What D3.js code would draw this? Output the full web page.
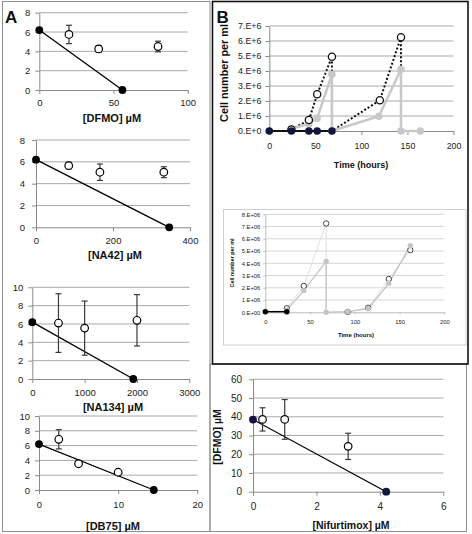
<!DOCTYPE html>
<html><head><meta charset="utf-8">
<script src="https://cdn.jsdelivr.net/npm/d3@7"></script>
<style>
body{margin:0;background:#fff}
svg{display:block}
text{font-family:"Liberation Sans",Arial,sans-serif}
</style>
</head><body>
<svg id="c" width="472" height="534"></svg>
<script>
// ---------- DATA ----------
// Panel A: growth (y) vs drug concentration; open = combination points, filled = isobole ends
const dfmoDose = [20, 40, 80], dfmoGrowth = [5.75, 4.25, 4.5], dfmoErr = [0.95, 0.35, 0.55];
const dfmoIsoDose = [0, 56], dfmoIsoGrowth = [6.2, 0];
const dfmoXTicks = [0, 50, 100], dfmoYTicks = [0, 2, 4, 6, 8];

const na42Dose = [85, 166, 332], na42Growth = [5.65, 5.05, 5.05], na42Err = [0.3, 0.75, 0.5];
const na42IsoDose = [0, 346], na42IsoGrowth = [6.2, 0];
const na42XTicks = [0, 200, 400], na42YTicks = [0, 2, 4, 6, 8];

const na134Dose = [500, 1000, 2000], na134Growth = [6.1, 5.55, 6.4], na134Err = [3.2, 2.95, 2.8];
const na134IsoDose = [0, 1930], na134IsoGrowth = [6.2, 0];
const na134XTicks = [0, 1000, 2000, 3000], na134YTicks = [0, 2, 4, 6, 8, 10];

const db75Dose = [2.5, 5, 10], db75Growth = [6.85, 3.55, 2.4], db75Err = [1.3, 0.15, 0.15];
const db75IsoDose = [0, 14.5], db75IsoGrowth = [6.2, 0];
const db75XTicks = [0, 10, 20], db75YTicks = [0, 2, 4, 6, 8, 10];

// Panel B (main): cell number (millions) vs time (hours)
const bBlackTime = [0, 24, 43, 52, 68], bBlackCells = [0, 0, 0, 0, 0];
const bOpenTime = [24, 43, 52, 68, 68, 120, 143, 143, 164], bOpenCells = [0.1, 0.73, 2.45, 4.95, 0, 2.05, 6.25, 0, 0];
const bGrayTime = [24, 43, 52, 68, 68, 119, 143, 143, 164], bGrayCells = [0.15, 0.47, 0.85, 3.78, 0, 0.98, 4.12, 0, 0];
const bXTicks = [0, 50, 100, 150, 200];
const bYTicks = [0, 1, 2, 3, 4, 5, 6, 7];
const bYTickLabels = ["0.E+0", "1.E+6", "2.E+6", "3.E+6", "4.E+6", "5.E+6", "6.E+6", "7.E+6"];

// Panel B (inset)
const iBlackTime = [0, 24], iBlackCells = [0.05, 0.05];
const iOpenTime = [24, 43, 68, 68, 92, 115, 138, 162], iOpenCells = [0.33, 2.15, 7.25, 0, 0.03, 0.37, 2.72, 5.08];
const iGrayTime = [24, 43, 68, 68, 92, 115, 138, 162], iGrayCells = [0.2, 1.77, 4.15, 0, 0.05, 0.3, 2.37, 5.44];
const iXTicks = [0, 50, 100, 150, 200];
const iYTicks = [0, 1, 2, 3, 4, 5, 6, 7, 8];
const iYTickLabels = ["0.E+00", "1.E+06", "2.E+06", "3.E+06", "4.E+06", "5.E+06", "6.E+06", "7.E+06", "8.E+06"];

// Nifurtimox / DFMO isobologram
const nifDose = [0.3, 1, 3], nifDfmo = [38.6, 38.6, 24.2], nifErr = [6.2, 10.6, 7];
const nifIsoDose = [0, 4.2], nifIsoDfmo = [38.5, 0];
const nifXTicks = [0, 2, 4, 6], nifYTicks = [0, 10, 20, 30, 40, 50, 60];

// ---------- DRAWING ----------
const svg = d3.select("#c");

// frames
svg.append("rect").attr("x", 2.5).attr("y", 1.5).attr("width", 207.5).attr("height", 530)
  .attr("fill", "none").attr("stroke", "#8f8f8f").attr("stroke-width", 1);
svg.append("rect").attr("x", 210).attr("y", 364).attr("width", 256.5).attr("height", 167.5)
  .attr("fill", "none").attr("stroke", "#8f8f8f").attr("stroke-width", 1);
svg.append("rect").attr("x", 212.5).attr("y", 1.5).attr("width", 255.5).attr("height", 362.5)
  .attr("fill", "none").attr("stroke", "#111").attr("stroke-width", 1.6);

function makeAxes(cfg) {
  const x = d3.scaleLinear().domain(cfg.xDomain).range(cfg.xRange);
  const y = d3.scaleLinear().domain(cfg.yDomain).range(cfg.yRange);
  const g = svg.append("g");
  g.selectAll("line.grid").data(cfg.yTicks.filter(v => v !== cfg.yDomain[0])).enter().append("line")
    .attr("x1", cfg.xRange[0]).attr("x2", cfg.xRange[1])
    .attr("y1", d => y(d)).attr("y2", d => y(d))
    .attr("stroke", cfg.gridColor).attr("stroke-width", cfg.gridWidth || 1);
  const xa = g.append("g").attr("transform", `translate(0,${y(cfg.yDomain[0])})`)
    .call(d3.axisBottom(x).tickValues(cfg.xTicks).tickSize(cfg.tick).tickPadding(cfg.xPad).tickSizeOuter(0)
      .tickFormat(d => String(d)));
  const ya = g.append("g").attr("transform", `translate(${cfg.xRange[0]},0)`)
    .call(d3.axisLeft(y).tickValues(cfg.yTicks).tickSize(cfg.tick).tickPadding(cfg.yPad).tickSizeOuter(0)
      .tickFormat(cfg.yFormat || (d => String(d))));
  [xa, ya].forEach(a => {
    a.select(".domain").attr("stroke", cfg.axisColor);
    a.selectAll(".tick line").attr("stroke", cfg.axisColor);
    a.selectAll(".tick text").attr("fill", "#222").attr("font-size", cfg.fs)
      .attr("font-family", '"Liberation Sans",Arial,sans-serif');
  });
  return {x, y, g};
}

function isoPanel(cfg, dose, val, err, isoX, isoY, fill) {
  const {x, y, g} = makeAxes(cfg);
  g.append("path").datum(isoX.map((d, i) => [d, isoY[i]]))
    .attr("d", d3.line().x(d => x(d[0])).y(d => y(d[1])))
    .attr("fill", "none").attr("stroke", "#000").attr("stroke-width", 1.3);
  const pts = dose.map((d, i) => ({d, v: val[i], e: err[i]}));
  const eb = g.selectAll("g.eb").data(pts).enter().append("g")
    .attr("stroke", "#3a3a3a").attr("stroke-width", 1.2);
  eb.append("line").attr("x1", p => x(p.d)).attr("x2", p => x(p.d))
    .attr("y1", p => y(p.v - p.e)).attr("y2", p => y(p.v + p.e));
  eb.append("line").attr("x1", p => x(p.d) - 3).attr("x2", p => x(p.d) + 3)
    .attr("y1", p => y(p.v + p.e)).attr("y2", p => y(p.v + p.e));
  eb.append("line").attr("x1", p => x(p.d) - 3).attr("x2", p => x(p.d) + 3)
    .attr("y1", p => y(p.v - p.e)).attr("y2", p => y(p.v - p.e));
  g.selectAll("circle.open").data(pts).enter().append("circle")
    .attr("cx", p => x(p.d)).attr("cy", p => y(p.v)).attr("r", 3.8)
    .attr("fill", "#fff").attr("stroke", "#000").attr("stroke-width", 1.2);
  g.selectAll("circle.iso").data(isoX.map((d, i) => [d, isoY[i]])).enter().append("circle")
    .attr("cx", d => x(d[0])).attr("cy", d => y(d[1])).attr("r", 3.9).attr("fill", fill);
  g.append("text").attr("x", cfg.titleX).attr("y", cfg.titleY).attr("text-anchor", "middle")
    .attr("font-weight", "bold").attr("font-size", cfg.titleFs).attr("fill", "#111").text(cfg.title);
  if (cfg.yTitle) {
    g.append("text").attr("transform", `translate(${cfg.yTitleX},${cfg.yTitleY}) rotate(-90)`)
      .attr("text-anchor", "middle").attr("font-weight", "bold").attr("font-size", cfg.titleFs)
      .attr("fill", "#111").text(cfg.yTitle);
  }
}

const aCommon = {tick: 4, yPad: 5, gridColor: "#a9a9a9", axisColor: "#8a8a8a", fs: 9.5, titleFs: 11};

isoPanel(Object.assign({}, aCommon, {xDomain: [0, 100], xRange: [39.3, 187.7], yDomain: [0, 8], yRange: [90, 12.7],
  xTicks: dfmoXTicks, yTicks: dfmoYTicks, xPad: 5.5, title: "[DFMO] µM", titleX: 112, titleY: 122}),
  dfmoDose, dfmoGrowth, dfmoErr, dfmoIsoDose, dfmoIsoGrowth, "#000");

isoPanel(Object.assign({}, aCommon, {xDomain: [0, 400], xRange: [36, 190], yDomain: [0, 8], yRange: [227.3, 140],
  xTicks: na42XTicks, yTicks: na42YTicks, xPad: 5.5, yPad: 7, title: "[NA42] µM", titleX: 115, titleY: 259}),
  na42Dose, na42Growth, na42Err, na42IsoDose, na42IsoGrowth, "#000");

isoPanel(Object.assign({}, aCommon, {xDomain: [0, 3000], xRange: [32.3, 189.3], yDomain: [0, 10], yRange: [379, 287.3],
  xTicks: na134XTicks, yTicks: na134YTicks, xPad: 6.5, title: "[NA134] µM", titleX: 113, titleY: 411}),
  na134Dose, na134Growth, na134Err, na134IsoDose, na134IsoGrowth, "#000");

isoPanel(Object.assign({}, aCommon, {xDomain: [0, 20], xRange: [39, 197.3], yDomain: [0, 10], yRange: [490, 416],
  xTicks: db75XTicks, yTicks: db75YTicks, xPad: 7.5, title: "[DB75] µM", titleX: 113, titleY: 529.5}),
  db75Dose, db75Growth, db75Err, db75IsoDose, db75IsoGrowth, "#000");

isoPanel(Object.assign({}, aCommon, {xDomain: [0, 6], xRange: [253, 443.3], yDomain: [0, 60], yRange: [491.7, 379.3],
  xTicks: nifXTicks, yTicks: nifYTicks, xPad: 7, yPad: 7, fs: 10, titleFs: 10.5,
  title: "[Nifurtimox] µM", titleX: 351, titleY: 528.5, yTitle: "[DFMO] µM", yTitleX: 220.5, yTitleY: 437}),
  nifDose, nifDfmo, nifErr, nifIsoDose, nifIsoDfmo, "#14143c");

svg.append("text").attr("x", 5).attr("y", 22.7).attr("font-size", 17).attr("font-weight", "bold").attr("fill", "#111").text("A");
svg.append("text").attr("x", 216.5).attr("y", 22.7).attr("font-size", 17).attr("font-weight", "bold").attr("fill", "#111").text("B");

// ---- time-course panels ----
function timePanel(cfg, series) {
  const {x, y, g} = makeAxes(cfg);
  const line = d3.line().x(d => x(d[0])).y(d => y(d[1]));
  series.forEach(s => { s.pts = s.t.map((t, i) => [t, s.v[i]]); });
  series.slice().sort((a, b) => a.lineOrder - b.lineOrder).forEach(s => {
    g.append("path").datum(s.pts).attr("d", line)
      .attr("fill", "none").attr("stroke", s.line).attr("stroke-width", s.lw)
      .attr("stroke-dasharray", s.dash || null);
  });
  series.forEach(s => {
    g.selectAll(null).data(s.markZeros ? s.pts : s.pts.filter(p => p[1] > 0)).enter().append("circle")
      .attr("cx", d => x(d[0])).attr("cy", d => y(d[1])).attr("r", s.r)
      .attr("fill", s.fill).attr("stroke", s.stroke || "none").attr("stroke-width", s.sw || 0);
  });
  g.append("text").attr("x", cfg.titleX).attr("y", cfg.titleY).attr("text-anchor", "middle")
    .attr("font-weight", "bold").attr("font-size", cfg.xTitleFs).attr("fill", "#111").text("Time (hours)");
  g.append("text").attr("transform", `translate(${cfg.yTitleX},${cfg.yTitleY}) rotate(-90)`)
    .attr("text-anchor", "middle").attr("font-weight", "bold").attr("font-size", cfg.yTitleFs)
    .attr("fill", "#111").text("Cell number per ml");
}

timePanel({xDomain: [0, 200], xRange: [269.3, 453.5], yDomain: [0, 7], yRange: [131, 26],
  xTicks: bXTicks, yTicks: bYTicks, yFormat: d => bYTickLabels[bYTicks.indexOf(d)],
  tick: 4, xPad: 8, yPad: 4, gridColor: "#a9a9a9", axisColor: "#8a8a8a", fs: 8.8,
  titleX: 361, titleY: 168, xTitleFs: 9, yTitleX: 227.5, yTitleY: 73, yTitleFs: 10.8},
  [
    {t: bGrayTime, v: bGrayCells, line: "#c8c8c8", lw: 2.5, r: 3.8, fill: "#c8c8c8", markZeros: true, lineOrder: 1},
    {t: bOpenTime, v: bOpenCells, line: "#111", lw: 2, dash: "2,2", r: 3.6, fill: "#fff", stroke: "#111", sw: 1.3, lineOrder: 0},
    {t: bBlackTime, v: bBlackCells, line: "#111", lw: 2, r: 3.8, fill: "#14143c", markZeros: true, lineOrder: 2}
  ]);

svg.append("rect").attr("x", 223.5).attr("y", 209.5).attr("width", 242.5).attr("height", 135.5)
  .attr("fill", "#fff").attr("stroke", "#d0d0d0").attr("stroke-width", 1);
timePanel({xDomain: [0, 200], xRange: [265.3, 444.3], yDomain: [0, 8], yRange: [312.3, 214.3],
  xTicks: iXTicks, yTicks: iYTicks, yFormat: d => iYTickLabels[iYTicks.indexOf(d)],
  tick: 2, xPad: 6, yPad: 3, gridColor: "#d6d6d6", axisColor: "#bdbdbd", fs: 5.8,
  titleX: 356, titleY: 337, xTitleFs: 6, yTitleX: 234, yTitleY: 263, yTitleFs: 5.4},
  [
    {t: iOpenTime, v: iOpenCells, line: "#dedede", lw: 1, r: 2.7, fill: "#fff", stroke: "#333", sw: 0.9, lineOrder: 0},
    {t: iGrayTime, v: iGrayCells, line: "#c4c4c4", lw: 1.3, r: 2.7, fill: "#c4c4c4", markZeros: true, lineOrder: 1},
    {t: iBlackTime, v: iBlackCells, line: "#000", lw: 1.5, r: 2.8, fill: "#000", markZeros: true, lineOrder: 2}
  ]);
</script>
</body></html>
